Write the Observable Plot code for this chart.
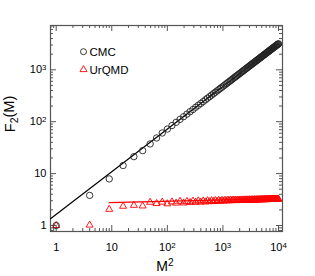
<!DOCTYPE html>
<html><head><meta charset="utf-8">
<script src="https://cdn.jsdelivr.net/npm/d3@7"></script>
<script src="https://cdn.jsdelivr.net/npm/@observablehq/plot@0.6"></script>
<style>body{margin:0;background:#fff}#chart svg{font-family:"Liberation Sans",Arial,sans-serif}</style>
</head><body><div id="chart"></div>
<script>
// ---- data ----
const mValues = d3.range(1, 101); // M = 1..100, x = M^2
const cmcF2 = [1.0, 3.8, 7.9, 14.3, 21.2, 27.7, 37.3, 48.6,
  60.6, 72.1, 84.4, 97.3, 111, 125, 140, 156, 172, 190, 207, 225, 244, 264, 284, 304,
  325, 347, 369, 392, 415, 439, 463, 488, 513, 539, 566, 592, 620, 647, 676, 704,
  734, 763, 794, 824, 855, 887, 918, 951, 983, 1017, 1050, 1084, 1119, 1154, 1189, 1225,
  1261, 1297, 1335, 1372, 1410, 1448, 1486, 1525, 1564, 1604, 1645, 1685, 1726, 1767,
  1809, 1851, 1894, 1936, 1980, 2023, 2067, 2112, 2156, 2202, 2247, 2293, 2339, 2385,
  2432, 2479, 2527, 2575, 2623, 2671, 2720, 2770, 2820, 2869, 2919, 2971, 3022, 3073, 3125, 3177];
const urqmdF2 = [1.0, 1.02, 2.05, 2.35, 2.45, 2.38, 2.8, 2.65,
  2.82, 2.62, 2.85, 2.7, 2.92, 2.72, 2.9, 2.78,
  2.95, 2.8, 2.98, 2.82, 2.97, 2.85, 3.0, 2.88,
  3.02, 2.9, 3.03, 2.92, 3.05, 2.94, 3.06, 2.96,
  3.07, 2.98, 3.08, 3.0, 3.1, 3.01, 3.1, 3.03,
  3.08, 3.02, 3.09, 3.03, 3.1, 3.04, 3.1, 3.05, 3.11, 3.06,
  3.12, 3.07, 3.12, 3.08, 3.13, 3.08, 3.14, 3.09, 3.14, 3.1,
  3.15, 3.1, 3.15, 3.11, 3.16, 3.12, 3.16, 3.12, 3.17, 3.13,
  3.17, 3.14, 3.18, 3.14, 3.19, 3.15, 3.19, 3.15, 3.2, 3.16,
  3.2, 3.17, 3.21, 3.17, 3.21, 3.18, 3.22, 3.18, 3.22, 3.19,
  3.23, 3.19, 3.23, 3.2, 3.24, 3.2, 3.24, 3.21, 3.25, 3.22];
const cmcFitX = [0.79, 10000];
const cmcFitY = [1.35, 3180];
const urqmdFitX = [9, 10000];
const urqmdFitY = [2.75, 3.3];
const xMajor = [1, 10, 100, 1000, 10000];
const yMajor = [1, 10, 100, 1000];
const xLabels = ["1", "10", "10^2", "10^3", "10^4"];
const yLabels = ["1", "10", "10^2", "10^3"];
const seriesNames = ["CMC", "UrQMD"];
const seriesColors = ["#222222", "#ff0000"];

// ---- build ----
const minorOf = (lo, hi) => { const out = []; for (let e = -1; e <= 4; e++) for (let k = 2; k <= 9; k++) { const v = k * Math.pow(10, e); if (v >= lo && v <= hi) out.push(v); } return out; };
const xDomain = [0.79, 11800], yDomain = [0.766, 7140];
const xMinor = minorOf(xDomain[0], xDomain[1]);
const yMinor = minorOf(yDomain[0], yDomain[1]);
const cmc = mValues.map((m, i) => ({x: m * m, y: cmcF2[i]})).filter(d => d.y != null);
const urq = mValues.map((m, i) => ({x: m * m, y: urqmdF2[i]})).filter(d => d.y != null);
const cmcFit = cmcFitX.map((x, i) => ({x, y: cmcFitY[i]}));
const urqFit = urqmdFitX.map((x, i) => ({x, y: urqmdFitY[i]}));

const W = 315, H = 276, mL = 50, mR = 33, mT = 25, mB = 45;
const iW = W - mL - mR, iH = H - mT - mB;
const tc = "#555";
const fmtX = d => xLabels[xMajor.indexOf(d)];
const fmtY = d => yLabels[yMajor.indexOf(d)];

const chart = Plot.plot({
  width: W, height: H, marginLeft: mL, marginRight: mR, marginTop: mT, marginBottom: mB,
  style: {fontFamily: "Liberation Sans, Arial, sans-serif", fontSize: "11px", background: "#fff"},
  x: {type: "log", domain: xDomain},
  y: {type: "log", domain: yDomain},
  marks: [
    Plot.tickX(xMajor, {x: d => d, insetTop: iH - 6, stroke: tc}),
    Plot.tickX(xMajor, {x: d => d, insetBottom: iH - 6, stroke: tc}),
    Plot.tickX(xMinor, {x: d => d, insetTop: iH - 3, stroke: tc}),
    Plot.tickX(xMinor, {x: d => d, insetBottom: iH - 3, stroke: tc}),
    Plot.tickY(yMajor, {y: d => d, insetRight: iW - 6, stroke: tc}),
    Plot.tickY(yMajor, {y: d => d, insetLeft: iW - 6, stroke: tc}),
    Plot.tickY(yMinor, {y: d => d, insetRight: iW - 3, stroke: tc}),
    Plot.tickY(yMinor, {y: d => d, insetLeft: iW - 3, stroke: tc}),
    Plot.frame({stroke: tc, strokeWidth: 1.2}),
    Plot.axisX(xMajor, {tickSize: 0, tickPadding: 12, tickFormat: fmtX, fontSize: 11, label: null, fill: "#000"}),
    Plot.axisY(yMajor, {tickSize: 0, tickPadding: 4, tickFormat: fmtY, fontSize: 11, label: null, fill: "#000"}),
    Plot.line(cmcFit, {x: "x", y: "y", stroke: "#000", strokeWidth: 1.2, clip: true}),
    Plot.line(urqFit, {x: "x", y: "y", stroke: seriesColors[1], strokeWidth: 1.2, clip: true}),
    Plot.dot(urq, {x: "x", y: "y", symbol: "triangle", r: 2.6, stroke: seriesColors[1], strokeWidth: 0.9, fill: "none"}),
    Plot.dot(cmc, {x: "x", y: "y", symbol: "circle", r: 3.2, stroke: seriesColors[0], strokeWidth: 0.9, fill: "none"})
  ]
});
document.getElementById("chart").appendChild(chart);

const svg = d3.select(chart);
// superscripts in tick labels
svg.selectAll("text").each(function () {
  const t = this.textContent;
  if (t.includes("^")) {
    const [base, sup] = t.split("^");
    const sel = d3.select(this);
    sel.text(base);
    sel.append("tspan").attr("dy", "-0.42em").attr("font-size", "0.72em").text(sup);
  }
});
// axis titles
svg.append("text").attr("transform", "translate(15,114) rotate(-90)").attr("text-anchor", "middle")
  .attr("font-size", 14.5).attr("fill", "#000")
  .call(t => { t.append("tspan").text("F"); t.append("tspan").attr("dy", "0.3em").attr("font-size", "0.72em").text("2"); t.append("tspan").attr("dy", "-0.3em").text("(M)"); });
svg.append("text").attr("x", 165).attr("y", 270.5).attr("text-anchor", "middle")
  .attr("font-size", 14).attr("fill", "#000")
  .call(t => { t.append("tspan").text("M"); t.append("tspan").attr("dy", "-0.42em").attr("font-size", "0.72em").text("2"); });
// legend
const legY = [51.7, 69.6];
const symTypes = [d3.symbolCircle, d3.symbolTriangle];
const symSizes = [Math.PI * 3 * 3, Math.PI * 2.6 * 2.6];
seriesNames.forEach((name, i) => {
  svg.append("path").attr("transform", `translate(83.5,${legY[i]})`)
    .attr("d", d3.symbol(symTypes[i], symSizes[i])()).attr("fill", "none")
    .attr("stroke", seriesColors[i]).attr("stroke-width", 0.9);
  svg.append("text").attr("x", 89.5).attr("y", legY[i] + 4).attr("text-anchor", "start")
    .attr("font-size", 11.5).attr("fill", "#000").text(name);
});
</script></body></html>
